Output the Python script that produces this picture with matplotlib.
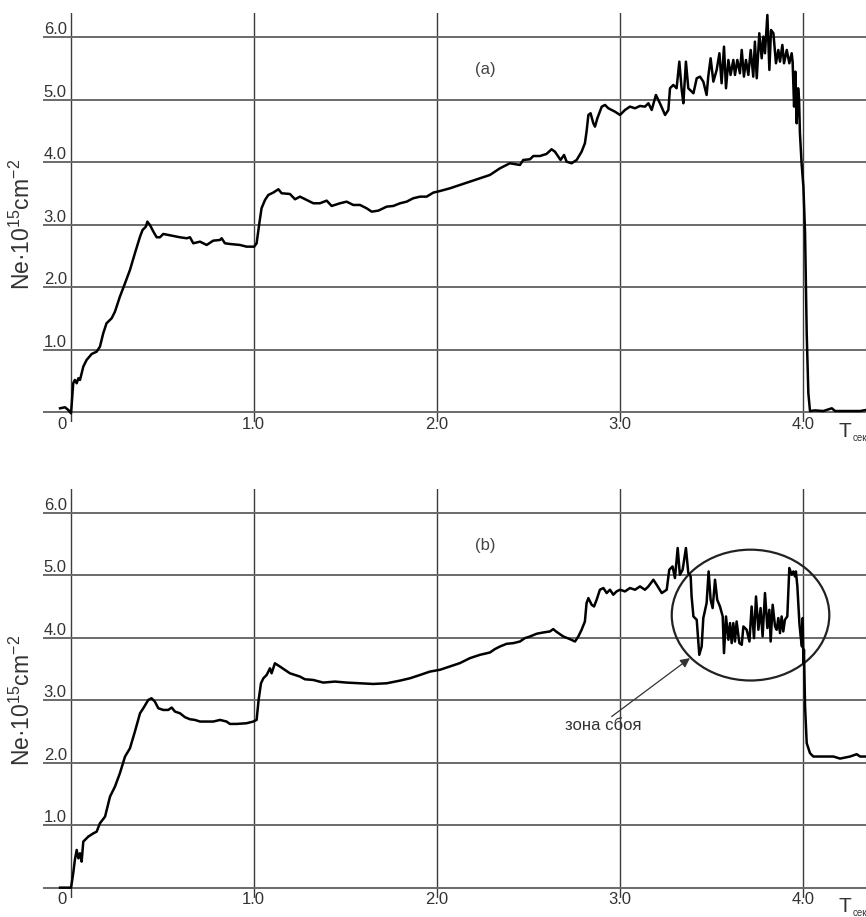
import matplotlib
matplotlib.use("Agg")
import matplotlib.pyplot as plt
from matplotlib.patches import Ellipse

plt.rcParams['font.family'] = ['Liberation Sans', 'DejaVu Sans']
plt.rcParams['mathtext.fontset'] = 'custom'
plt.rcParams['mathtext.rm'] = 'Liberation Sans'
plt.rcParams['mathtext.it'] = 'Liberation Sans:italic'
plt.rcParams['mathtext.bf'] = 'Liberation Sans:bold'

# ---- measured electron content, record (a) ----
t_a = [-0.058, -0.031, -0.013, 0.002, 0.014, 0.023, 0.033, 0.042, 0.051, 0.069,
       0.087, 0.115, 0.142, 0.160, 0.178, 0.196, 0.224, 0.242, 0.269, 0.297,
       0.324, 0.351, 0.379, 0.393, 0.411, 0.419, 0.433, 0.452, 0.470, 0.488,
       0.506, 0.533, 0.561, 0.597, 0.634, 0.652, 0.670, 0.707, 0.743, 0.779,
       0.816, 0.825, 0.843, 0.870, 0.925, 0.961, 1.003, 1.016, 1.031, 1.043,
       1.062, 1.080, 1.107, 1.135, 1.153, 1.198, 1.226, 1.253, 1.289, 1.326,
       1.362, 1.399, 1.426, 1.472, 1.508, 1.544, 1.581, 1.617, 1.645, 1.681,
       1.727, 1.763, 1.800, 1.836, 1.872, 1.909, 1.945, 1.982,
       2.018, 2.073, 2.127, 2.182, 2.237, 2.291, 2.346, 2.400, 2.455, 2.473,
       2.510, 2.528, 2.564, 2.600, 2.628, 2.646, 2.665, 2.677, 2.696, 2.710,
       2.737, 2.765, 2.792, 2.810, 2.819, 2.829, 2.841, 2.856, 2.865, 2.878,
       2.902, 2.920, 2.938, 2.956, 2.974, 3.002, 3.029, 3.056, 3.084, 3.111,
       3.138, 3.157, 3.175, 3.198, 3.220, 3.248, 3.266, 3.275, 3.293, 3.311,
       3.326, 3.339, 3.348, 3.362, 3.375, 3.403, 3.421, 3.439, 3.457, 3.475,
       3.484, 3.497, 3.512, 3.530, 3.545, 3.557, 3.570, 3.581, 3.594, 3.606,
       3.621, 3.630, 3.643, 3.657, 3.667, 3.679, 3.690, 3.703, 3.716, 3.730,
       3.739, 3.749, 3.763, 3.776, 3.785, 3.794, 3.807, 3.818, 3.827, 3.840,
       3.854, 3.867, 3.876, 3.889, 3.898, 3.913, 3.927, 3.940, 3.945, 3.953,
       3.960, 3.967, 3.975, 3.980, 3.985, 3.994, 4.004, 4.013, 4.022, 4.031,
       4.040, 4.067, 4.113, 4.159, 4.177, 4.314, 4.346]
ne_a = [0.064, 0.080, 0.037, -0.016, 0.464, 0.517, 0.464, 0.544, 0.517, 0.730,
        0.837, 0.933, 0.970, 1.050, 1.264, 1.424, 1.504, 1.610, 1.850, 2.064,
        2.277, 2.544, 2.810, 2.917, 2.970, 3.050, 2.997, 2.890, 2.800, 2.800,
        2.853, 2.837, 2.820, 2.800, 2.784, 2.800, 2.704, 2.730, 2.677, 2.746,
        2.757, 2.784, 2.704, 2.693, 2.677, 2.650, 2.650, 2.704, 3.024, 3.264,
        3.397, 3.477, 3.515, 3.568, 3.504, 3.493, 3.408, 3.450, 3.397, 3.344,
        3.344, 3.386, 3.301, 3.344, 3.370, 3.317, 3.317, 3.264, 3.210, 3.226,
        3.290, 3.301, 3.344, 3.370, 3.424, 3.450, 3.450, 3.515,
        3.540, 3.584, 3.637, 3.690, 3.744, 3.797, 3.904, 3.984, 3.957, 4.037,
        4.048, 4.100, 4.100, 4.133, 4.208, 4.170, 4.090, 4.037, 4.117, 4.010,
        3.984, 4.037, 4.170, 4.304, 4.490, 4.757, 4.784, 4.624, 4.570, 4.704,
        4.890, 4.917, 4.864, 4.837, 4.810, 4.757, 4.837, 4.890, 4.864, 4.901,
        4.890, 4.944, 4.837, 5.077, 4.944, 4.757, 4.837, 5.184, 5.237, 5.184,
        5.610, 5.157, 4.944, 5.610, 5.184, 5.104, 5.344, 5.370, 5.290, 5.077,
        5.370, 5.664, 5.290, 5.477, 5.744, 5.264, 5.850, 5.184, 5.637, 5.397,
        5.637, 5.397, 5.637, 5.424, 5.797, 5.370, 5.637, 5.397, 5.797, 5.370,
        5.930, 5.344, 6.064, 5.664, 6.010, 5.744, 6.357, 5.477, 6.117, 6.064,
        5.584, 5.797, 5.610, 5.877, 5.584, 5.797, 5.584, 5.744, 5.610, 4.890,
        5.450, 4.624, 5.184, 5.024, 4.464, 3.984, 3.610, 2.864, 1.264, 0.304,
        0.020, 0.030, 0.020, 0.064, 0.020, 0.020, 0.037]

# ---- measured electron content, record (b) ----
t_b = [-0.058, 0.002, 0.014, 0.023, 0.033, 0.042, 0.051, 0.060, 0.069, 0.096,
       0.124, 0.142, 0.160, 0.188, 0.215, 0.242, 0.269, 0.297, 0.324, 0.351,
       0.379, 0.397, 0.424, 0.442, 0.460, 0.479, 0.506, 0.533, 0.552, 0.570,
       0.597, 0.625, 0.652, 0.679, 0.707, 0.743, 0.779, 0.816, 0.852, 0.870,
       0.907, 0.961, 0.998, 1.016, 1.027, 1.040, 1.053, 1.071, 1.089, 1.098,
       1.116, 1.144, 1.171, 1.198, 1.226, 1.253, 1.280, 1.326, 1.380, 1.444,
       1.508, 1.581, 1.654, 1.727, 1.800, 1.854, 1.909, 1.963,
       2.018, 2.073, 2.127, 2.182, 2.237, 2.291, 2.318, 2.346, 2.382, 2.419,
       2.455, 2.482, 2.510, 2.546, 2.583, 2.619, 2.637, 2.652, 2.665, 2.692,
       2.728, 2.756, 2.774, 2.792, 2.810, 2.819, 2.829, 2.847, 2.860, 2.874,
       2.892, 2.911, 2.929, 2.947, 2.965, 2.983, 3.002, 3.029, 3.056, 3.084,
       3.111, 3.138, 3.157, 3.184, 3.202, 3.230, 3.257, 3.271, 3.289, 3.302,
       3.317, 3.329, 3.344, 3.362, 3.375, 3.388, 3.393, 3.403, 3.421, 3.435,
       3.448, 3.457, 3.475, 3.486, 3.497, 3.508, 3.521, 3.533, 3.548, 3.563,
       3.570, 3.581, 3.594, 3.603, 3.612, 3.621, 3.630, 3.639, 3.654, 3.667,
       3.676, 3.694, 3.709, 3.721, 3.734, 3.745, 3.758, 3.770, 3.781, 3.794,
       3.807, 3.818, 3.825, 3.836, 3.849, 3.858, 3.867, 3.876, 3.885, 3.894,
       3.903, 3.916, 3.927, 3.940, 3.949, 3.958, 3.963, 3.971, 3.982, 3.989,
       3.996, 4.000, 4.004, 4.007, 4.013, 4.022, 4.040, 4.058, 4.113, 4.168,
       4.204, 4.259, 4.295, 4.314, 4.346]
ne_b = [0.000, 0.000, 0.231, 0.444, 0.604, 0.470, 0.550, 0.417, 0.737, 0.817,
        0.870, 0.897, 1.031, 1.138, 1.458, 1.618, 1.832, 2.099, 2.232, 2.499,
        2.793, 2.873, 3.006, 3.033, 2.980, 2.873, 2.846, 2.846, 2.884, 2.820,
        2.793, 2.729, 2.697, 2.686, 2.660, 2.660, 2.660, 2.686, 2.660, 2.622,
        2.622, 2.633, 2.660, 2.686, 3.006, 3.273, 3.353, 3.406, 3.513, 3.433,
        3.593, 3.540, 3.486, 3.433, 3.406, 3.380, 3.337, 3.326, 3.284, 3.300,
        3.284, 3.273, 3.262, 3.273, 3.316, 3.353, 3.406, 3.460,
        3.489, 3.543, 3.596, 3.676, 3.729, 3.766, 3.820, 3.862, 3.905, 3.916,
        3.942, 3.996, 4.022, 4.066, 4.087, 4.103, 4.141, 4.103, 4.076, 4.022,
        3.980, 3.942, 4.022, 4.130, 4.263, 4.557, 4.637, 4.530, 4.503, 4.610,
        4.771, 4.798, 4.718, 4.771, 4.691, 4.744, 4.771, 4.744, 4.798, 4.771,
        4.824, 4.771, 4.824, 4.931, 4.851, 4.718, 4.771, 5.091, 5.144, 4.958,
        5.439, 5.011, 5.091, 5.439, 5.038, 4.984, 4.663, 4.343, 4.290, 3.729,
        3.862, 4.317, 4.557, 5.064, 4.610, 4.477, 4.931, 4.610, 4.503, 4.343,
        3.756, 4.343, 3.970, 4.237, 3.916, 4.237, 3.942, 4.263, 3.916, 3.889,
        4.183, 4.130, 3.942, 4.503, 3.996, 4.663, 4.130, 4.477, 4.022, 4.718,
        4.157, 4.450, 3.942, 4.530, 4.183, 4.130, 4.317, 4.076, 4.343, 4.103,
        4.290, 4.343, 5.119, 5.011, 5.064, 4.984, 5.064, 4.824, 4.237, 4.022,
        3.862, 4.317, 3.596, 3.810, 2.901, 2.314, 2.154, 2.100, 2.100, 2.100,
        2.067, 2.100, 2.137, 2.100, 2.100]

x_ticks = [0, 1, 2, 3, 4]
x_tick_labels = ['0', '1.0', '2.0', '3.0', '4.0']
y_ticks = [0, 1, 2, 3, 4, 5, 6]
y_tick_labels = ['', '1.0', '2.0', '3.0', '4.0', '5.0', '6.0']
y_title = r'Ne·10$^{15}$cm$^{-2}$'
t_unit = 'T'
t_unit_sub = 'сек'
panel_tags = ['(a)', '(b)']
fault_text = 'зона сбоя'

XLIM = (-0.15, 4.346)
YLIM = (-0.16, 6.385)

fig = plt.figure(figsize=(8.66, 9.17), dpi=100)
ax_a = fig.add_axes([0.0499, 0.5395, 0.9501, 0.4461])
ax_b = fig.add_axes([0.0499, 0.0211, 0.9501, 0.4457])

txt_col = '#333333'
for ax, t, ne, tag in ((ax_a, t_a, ne_a, panel_tags[0]), (ax_b, t_b, ne_b, panel_tags[1])):
    ax.set_xlim(*XLIM)
    ax.set_ylim(*YLIM)
    ax.set_xticks(x_ticks)
    ax.set_yticks(y_ticks)
    ax.tick_params(length=0, labelbottom=False, labelleft=False)
    for s in ax.spines.values():
        s.set_visible(False)
    ax.set_axisbelow(True)
    ax.yaxis.grid(True, color='#6a6a6a', lw=1.4)
    ax.xaxis.grid(True, color='#3c3c3c', lw=1.0)

    ax.plot(t, ne, color='black', lw=1.8, solid_joinstyle='round')

    for v, lab in zip(y_ticks, y_tick_labels):
        if lab:
            ax.text(XLIM[0] + 0.003, v + 0.05, lab, ha='left', va='baseline',
                    fontsize=12, color=txt_col)
    for v, lab in zip(x_ticks, x_tick_labels):
        if v == 0:
            ax.text(-0.02, -0.075, lab, ha='right', va='top', fontsize=12, color=txt_col)
        else:
            ax.text(v, -0.075, lab, ha='center', va='top', fontsize=12, color=txt_col)

    ax.text(4.198, -0.155, t_unit, ha='left', va='top', fontsize=15, color=txt_col)
    ax.text(4.275, -0.46, t_unit_sub, ha='left', va='baseline', fontsize=7, color=txt_col)

    ax.text(-0.262, 3.0, y_title, rotation=90, ha='center', va='center',
            fontsize=16.5, color=txt_col)
    ax.text(2.265, 5.48, tag, ha='center', va='center', fontsize=12, color='#444444')

# highlighted fault region on record (b)
ax_b.add_patch(Ellipse((3.715, 4.365), 0.861, 2.095, fill=False,
                       edgecolor='#222222', lw=1.6))
ax_b.annotate('', xy=(3.384, 3.676), xytext=(2.956, 2.74),
              arrowprops=dict(arrowstyle='-|>', color='#333333', lw=0.9,
                              mutation_scale=14, shrinkA=0, shrinkB=0))
ax_b.text(2.909, 2.6, fault_text, ha='center', va='center', fontsize=12, color=txt_col)

fig.savefig('out.png', dpi=100)
